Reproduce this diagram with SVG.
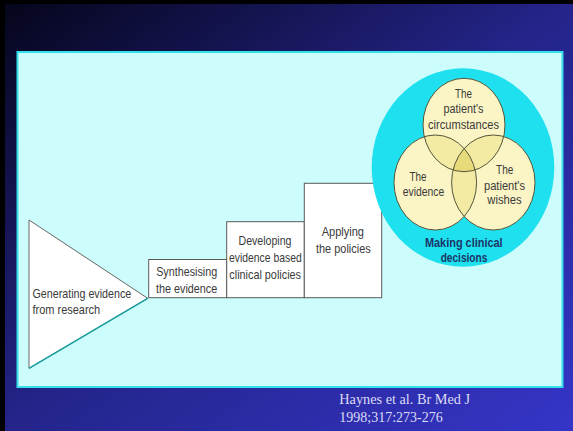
<svg xmlns="http://www.w3.org/2000/svg" width="573" height="431" viewBox="0 0 573 431">
<defs>
<linearGradient id="bg" x1="0" y1="0" x2="1" y2="1">
<stop offset="0" stop-color="#05051a"/>
<stop offset="0.5" stop-color="#24248a"/>
<stop offset="1" stop-color="#3535c8"/>
</linearGradient>
<clipPath id="cTop"><ellipse cx="464" cy="125" rx="41" ry="46.7"/></clipPath>
<clipPath id="cLeft"><ellipse cx="435.3" cy="182.5" rx="41.3" ry="47.5"/></clipPath>
<clipPath id="cRight"><ellipse cx="493.3" cy="182.5" rx="41.7" ry="47.5"/></clipPath>
<style>
.box{fill:#ffffff;stroke:#5a5a5a;stroke-width:1}
.t{font-family:"Liberation Sans",Arial,sans-serif;font-size:13px;fill:#3a3a3a}
.v{font-family:"Liberation Sans",Arial,sans-serif;font-size:12.5px;fill:#3a3a3a;text-anchor:middle}
.b{font-family:"Liberation Sans",Arial,sans-serif;font-size:12.5px;font-weight:bold;fill:#1b3568;text-anchor:middle}
.c{fill:#fbf5c6}
.p{fill:#f3eba4}
.cs{fill:none;stroke:#55553a;stroke-width:1}
.cite{font-family:"Liberation Serif","Times New Roman",serif;font-size:14px;fill:#dcdcf4}
</style>
</defs>
<rect x="0" y="0" width="573" height="431" fill="url(#bg)"/>
<rect x="0" y="0" width="573" height="4" fill="#000000"/>
<rect x="0" y="0" width="5" height="431" fill="#000000"/>
<rect x="17.5" y="52" width="545" height="335" fill="#ccfcfc" stroke="#33e0ea" stroke-width="2"/>

<g id="n-generating">
<polygon points="29,220 147.7,298.3 29,368.3" fill="#ffffff" stroke="#666666" stroke-width="1"/>
<line x1="29" y1="368.3" x2="147.7" y2="298.3" stroke="#1aa0a0" stroke-width="1.5"/>
<text class="t" x="32.5" y="298.3" textLength="98.7" lengthAdjust="spacingAndGlyphs">Generating evidence</text>
<text class="t" x="32.5" y="314" textLength="67.7" lengthAdjust="spacingAndGlyphs">from research</text>
</g>

<g id="n-synthesising">
<rect class="box" x="148.7" y="259.5" width="78" height="38.2"/>
<text class="t" x="156.2" y="276" textLength="61" lengthAdjust="spacingAndGlyphs">Synthesising</text>
<text class="t" x="156" y="292.7" textLength="61.3" lengthAdjust="spacingAndGlyphs">the evidence</text>
</g>

<g id="n-developing">
<rect class="box" x="226.7" y="221.7" width="77.6" height="76"/>
<text class="t" x="238.5" y="245" textLength="53" lengthAdjust="spacingAndGlyphs">Developing</text>
<text class="t" x="229" y="261.7" textLength="72.7" lengthAdjust="spacingAndGlyphs">evidence based</text>
<text class="t" x="229.3" y="279" textLength="71.7" lengthAdjust="spacingAndGlyphs">clinical policies</text>
</g>

<g id="n-applying">
<rect class="box" x="304.3" y="183.3" width="77.4" height="114.4"/>
<text class="t" x="321.7" y="236" textLength="42.3" lengthAdjust="spacingAndGlyphs">Applying</text>
<text class="t" x="316" y="252.7" textLength="54.7" lengthAdjust="spacingAndGlyphs">the policies</text>
</g>

<g id="n-decisions">
<ellipse cx="463" cy="167.5" rx="91.3" ry="99.2" fill="#1ee0ee"/>
<ellipse class="c" cx="464" cy="125" rx="41" ry="46.7"/>
<ellipse class="c" cx="435.3" cy="182.5" rx="41.3" ry="47.5"/>
<ellipse class="c" cx="493.3" cy="182.5" rx="41.7" ry="47.5"/>
<g clip-path="url(#cTop)">
<ellipse class="p" cx="435.3" cy="182.5" rx="41.3" ry="47.5"/>
<ellipse class="p" cx="493.3" cy="182.5" rx="41.7" ry="47.5"/>
</g>
<g clip-path="url(#cLeft)">
<ellipse class="p" cx="493.3" cy="182.5" rx="41.7" ry="47.5"/>
<g clip-path="url(#cRight)">
<ellipse cx="464" cy="125" rx="41" ry="46.7" fill="#e6da7a"/>
</g>
</g>
<ellipse class="cs" cx="464" cy="125" rx="41" ry="46.7"/>
<ellipse class="cs" cx="435.3" cy="182.5" rx="41.3" ry="47.5"/>
<ellipse class="cs" cx="493.3" cy="182.5" rx="41.7" ry="47.5"/>
<text class="v" x="463.5" y="97.5" textLength="17" lengthAdjust="spacingAndGlyphs">The</text>
<text class="v" x="463.5" y="113.3" textLength="40" lengthAdjust="spacingAndGlyphs">patient's</text>
<text class="v" x="463.5" y="128.5" textLength="71" lengthAdjust="spacingAndGlyphs">circumstances</text>
<text class="v" x="418" y="180.7" textLength="17" lengthAdjust="spacingAndGlyphs">The</text>
<text class="v" x="423.5" y="195.5" textLength="41.6" lengthAdjust="spacingAndGlyphs">evidence</text>
<text class="v" x="504.7" y="174" textLength="17.3" lengthAdjust="spacingAndGlyphs">The</text>
<text class="v" x="504.5" y="190" textLength="41" lengthAdjust="spacingAndGlyphs">patient's</text>
<text class="v" x="504.5" y="203.5" textLength="34.3" lengthAdjust="spacingAndGlyphs">wishes</text>
<text class="b" x="463.8" y="247.3" textLength="77.7" lengthAdjust="spacingAndGlyphs">Making clinical</text>
<text class="b" x="464" y="261.7" textLength="46.7" lengthAdjust="spacingAndGlyphs">decisions</text>
</g>

<g id="connectors"></g>

<text class="cite" x="339.3" y="404" textLength="130.7" lengthAdjust="spacingAndGlyphs">Haynes et al. Br Med J</text>
<text class="cite" x="339.3" y="421.7">1998;317:273-276</text>
</svg>
